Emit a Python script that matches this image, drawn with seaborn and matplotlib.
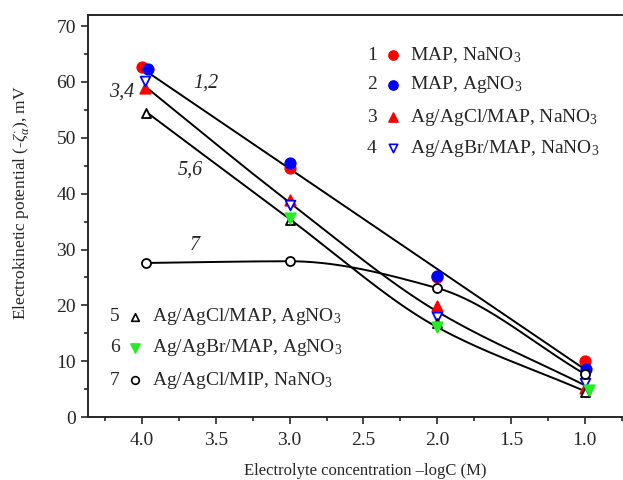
import numpy as np
import pandas as pd
import matplotlib
matplotlib.use("Agg")
import matplotlib.pyplot as plt
import seaborn as sns

# ---- data ----
x1 = [4.0, 3.0, 2.0, 1.0];   y1 = [62.7, 44.6, 25.0, 10.0]   # 1 MAP, NaNO3
x2 = [3.96, 3.0, 2.0, 0.99]; y2 = [62.3, 45.5, 25.2, 8.6]    # 2 MAP, AgNO3
x3 = [3.98, 3.0, 2.0, 1.0];  y3 = [59.0, 38.8, 19.9, 5.3]    # 3 Ag/AgCl/MAP, NaNO3
x4 = [3.98, 3.0, 2.0, 1.0];  y4 = [60.2, 38.0, 17.9, 6.1]    # 4 Ag/AgBr/MAP, NaNO3
x5 = [3.97, 3.0, 2.0, 1.0];  y5 = [54.4, 35.3, 16.8, 4.5]    # 5 Ag/AgCl/MAP, AgNO3
x6 = [3.0, 2.0, 0.97];       y6 = [35.6, 16.1, 4.8]          # 6 Ag/AgBr/MAP, AgNO3
x7 = [3.97, 3.0, 2.0, 1.0];  y7 = [27.6, 27.9, 23.1, 7.7]    # 7 Ag/AgCl/MIP, NaNO3

x_ticks = [4.0, 3.5, 3.0, 2.5, 2.0, 1.5, 1.0]
y_ticks = [0, 10, 20, 30, 40, 50, 60, 70]

labels = ["MAP, NaNO$_3$", "MAP, AgNO$_3$", "Ag/AgCl/MAP, NaNO$_3$",
          "Ag/AgBr/MAP, NaNO$_3$", "Ag/AgCl/MAP, AgNO$_3$",
          "Ag/AgBr/MAP, AgNO$_3$", "Ag/AgCl/MIP, NaNO$_3$"]
curve_labels = ["1,2", "3,4", "5,6", "7"]

# ---- style ----
sns.set_style("ticks")
plt.rcParams["font.family"] = ["Liberation Serif", "DejaVu Serif"]
plt.rcParams["mathtext.fontset"] = "custom"
plt.rcParams["mathtext.rm"] = "Liberation Serif"
plt.rcParams["mathtext.it"] = "Liberation Serif:italic"
plt.rcParams["mathtext.bf"] = "Liberation Serif:bold"

fig = plt.figure(figsize=(6.23, 4.8), dpi=100)
ax = fig.add_axes([0.141, 0.131, 0.857, 0.838])


# ---- smooth curves through the (averaged) data: monotone cubic Hermite ----
def pchip(xs, ys, n=200):
    xs = np.asarray(xs, float); ys = np.asarray(ys, float)
    o = np.argsort(xs); xs, ys = xs[o], ys[o]
    h = np.diff(xs); d = np.diff(ys) / h
    m = np.zeros_like(ys)
    m[0], m[-1] = d[0], d[-1]
    for k in range(1, len(xs) - 1):
        if d[k - 1] * d[k] <= 0:
            m[k] = 0.0
        else:
            w1 = 2 * h[k] + h[k - 1]; w2 = h[k] + 2 * h[k - 1]
            m[k] = (w1 + w2) / (w1 / d[k - 1] + w2 / d[k])
    xx = np.linspace(xs[0], xs[-1], n)
    yy = np.empty_like(xx)
    for i, xv in enumerate(xx):
        k = min(np.searchsorted(xs, xv, side="right") - 1, len(xs) - 2)
        t = (xv - xs[k]) / h[k]
        h00 = 2 * t**3 - 3 * t**2 + 1; h10 = t**3 - 2 * t**2 + t
        h01 = -2 * t**3 + 3 * t**2; h11 = t**3 - t**2
        yy[i] = h00 * ys[k] + h10 * h[k] * m[k] + h01 * ys[k + 1] + h11 * h[k] * m[k + 1]
    return xx, yy


cx = np.array([4, 3, 2, 1])
m12 = (np.array(y1) + np.array(y2)) / 2
c12 = np.polyfit(cx, m12, 1)
xx = np.linspace(1.0, 3.95, 100)
curves = [(xx, np.polyval(c12, xx))]
m34 = (np.array(y3) + np.array(y4)) / 2
curves.append(pchip([3.97, 3.0, 2.0, 1.0], [y3[0], m34[1], m34[2], m34[3]]))
m56 = [y5[0], (y5[1] + y6[0]) / 2, y6[1], (y5[3] + y6[2]) / 2]
curves.append(pchip([3.96, 3.0, 2.0, 1.0], m56))
curves.append(pchip([3.95, 3.0, 2.0, 1.0], y7))

for cxx, cyy in curves:
    sns.lineplot(x=cxx, y=cyy, ax=ax, color="black", lw=1.4, sort=False, zorder=2)

# ---- markers ----
series = [
    (x1, y1, "o", "red", "red", 7.5),
    (x2, y2, "o", "blue", "blue", 7.5),
    (x3, y3, "^", "red", "red", 7.5),
    (x4, y4, "v", "white", "blue", 7.0),
    (x5, y5, "^", "white", "black", 6.5),
    (x6, y6, "v", "#22ee22", "#22ee22", 7.5),
    (x7, y7, "o", "white", "black", 6.5),
]
for xs, ys, mk, fc, ec, ms in series:
    sns.scatterplot(x=xs, y=ys, ax=ax, marker=mk, s=ms ** 2, facecolor=fc,
                    edgecolor=ec, linewidth=1.3, zorder=3)

# ---- axes ----
ax.set_xlim(4.367, 0.807)
ax.set_ylim(0, 72)
ax.set_xticks(x_ticks)
ax.set_xticklabels([f"{v:.1f}" for v in x_ticks])
ax.set_yticks(y_ticks)
ax.set_xticks(np.arange(0.75, 4.5, 0.5), minor=True)
ax.set_yticks(np.arange(5, 71, 10), minor=True)
ax.tick_params(which="major", direction="out", length=5, width=1.2, labelsize=14)
ax.tick_params(axis="x", which="major", pad=6)
ax.tick_params(which="minor", direction="out", length=3, width=1.2)
for s in ["left", "bottom", "top"]:
    ax.spines[s].set_linewidth(1.4)
ax.spines["right"].set_visible(False)

ax.set_xlabel("Electrolyte concentration \u2013logC (M)", fontsize=12)
ax.set_ylabel(r"Electrokinetic potential (-$\zeta^{\cdot}_{\alpha}$), mV", fontsize=12.5)
ax.xaxis.set_label_coords(0.52, -0.114)
ax.yaxis.set_label_coords(-0.106, 0.532)

# curve labels
for (tx, ty), t in zip([(3.57, 59.8), (4.14, 58.2), (3.67, 44.2), (3.64, 30.8)], curve_labels):
    ax.text(tx, ty, t, fontsize=14.5, style="italic", ha="center", va="center")

# ---- custom legends ----
leg_rows = [(0.532, 0.571, 0.603, [0.900, 0.826, 0.746, 0.669], series[:4], labels[:4], 1),
            (0.051, 0.088, 0.120, [0.249, 0.172, 0.092], series[4:], labels[4:], 5)]
for nx, mx, tx, rows, ser, labs, start in leg_rows:
    for i, (ry, s_, lab) in enumerate(zip(rows, ser, labs)):
        _, _, mk, fc, ec, ms = s_
        ax.text(nx, ry, str(start + i), transform=ax.transAxes, fontsize=14,
                ha="center", va="center")
        ax.scatter([mx], [ry], transform=ax.transAxes, marker=mk, s=(ms - 1.0) ** 2,
                   facecolor=fc, edgecolor=ec, linewidth=1.2, clip_on=False, zorder=4)
        ax.text(tx, ry, lab, transform=ax.transAxes, fontsize=14, ha="left", va="center")

fig.savefig("out.png", dpi=100)
